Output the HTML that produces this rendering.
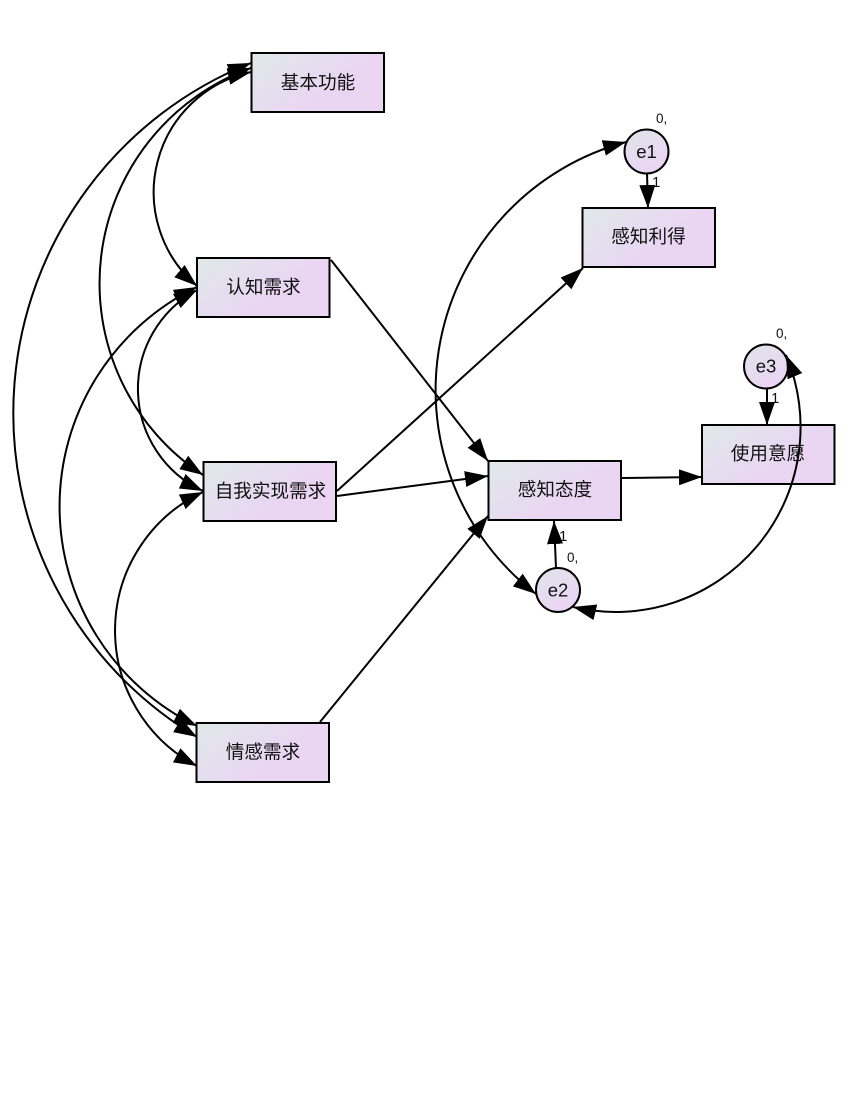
<!DOCTYPE html>
<html><head><meta charset="utf-8"><style>
html,body{margin:0;padding:0;background:#fff}
svg{display:block}
text{font-family:"Liberation Sans","Noto Sans CJK SC",sans-serif;fill:#111}
.c{font-size:18.6px;text-anchor:middle;font-family:"Liberation Sans","WenQuanYi Zen Hei","Noto Sans CJK SC",sans-serif}
.e{font-size:18.500px;text-anchor:middle}
.n{font-size:15px}
.z{font-size:13.500px}
.b{fill:url(#g);stroke:#000;stroke-width:2}
.o{fill:url(#h);stroke:#000;stroke-width:2}
.l{fill:none;stroke:#000;stroke-width:2}
.s{marker-end:url(#a)}
.d{marker-start:url(#a);marker-end:url(#a)}
</style></head><body>
<svg width="850" height="1100" viewBox="0 0 850 1100" xmlns="http://www.w3.org/2000/svg">
<defs>
<linearGradient id="g" x1="0" y1="0" x2="1" y2="0.6"><stop offset="0" stop-color="#dfe9e9"/><stop offset="0.75" stop-color="#ead5f3"/><stop offset="1" stop-color="#ead5f3"/></linearGradient>
<linearGradient id="h" x1="0.2" y1="0" x2="0.7" y2="1"><stop offset="0" stop-color="#e0e3ea"/><stop offset="1" stop-color="#ecd4f4"/></linearGradient>
<marker id="a" markerUnits="userSpaceOnUse" markerWidth="26" markerHeight="18" refX="23" refY="8" orient="auto-start-reverse"><path d="M0,0 L23,8 L0,16 Z" fill="#000"/></marker>
</defs>
<rect class="b" x="251.5" y="53" width="132.500" height="59"/>
<rect class="b" x="197" y="258" width="132.500" height="59"/>
<rect class="b" x="203.500" y="462" width="132.500" height="59"/>
<rect class="b" x="196.500" y="723" width="132.500" height="59"/>
<rect class="b" x="582.500" y="208" width="132.500" height="59"/>
<rect class="b" x="488.500" y="461" width="132.500" height="59"/>
<rect class="b" x="702" y="425" width="132.500" height="59"/>
<circle class="o" cx="646.500" cy="151.500" r="22"/>
<circle class="o" cx="558" cy="590" r="22"/>
<circle class="o" cx="766" cy="366.500" r="22"/>
<path class="l d" d="M251,72 A123,123 0 0 0 197,286"/>
<path class="l d" d="M251,68 A229,229 0 0 0 203,475"/>
<path class="l d" d="M251,63 A377,377 0 0 0 197,737"/>
<path class="l d" d="M197,290 A112.5,112.5 0 0 0 203,491"/>
<path class="l d" d="M197,287 A244,244 0 0 0 197,726"/>
<path class="l d" d="M203,492 A153,153 0 0 0 197,766"/>
<path class="l d" d="M626,142 A257,257 0 0 0 536,594"/>
<path class="l d" d="M786,355 A185,185 0 0 1 573,607"/>
<path class="l s" d="M331,260 L488,461"/>
<path class="l s" d="M337,491 L583,268"/>
<path class="l s" d="M337,496 L488,476"/>
<path class="l s" d="M320,722 L488,516"/>
<path class="l s" d="M622,478 L702,477"/>
<path class="l s" d="M647,173 L648,208"/>
<path class="l s" d="M556,568 L554,521"/>
<path class="l s" d="M767,388 L767,425"/>
<text class="c" x="318" y="89">基本功能</text>
<text class="c" x="263.500" y="293.500">认知需求</text>
<text class="c" x="270.500" y="497.500">自我实现需求</text>
<text class="c" x="263" y="758.500">情感需求</text>
<text class="c" x="648.500" y="243">感知利得</text>
<text class="c" x="555" y="496">感知态度</text>
<text class="c" x="768" y="460">使用意愿</text>
<text class="e" x="646.500" y="158">e1</text>
<text class="e" x="558" y="596.500">e2</text>
<text class="e" x="766" y="372.500">e3</text>
<text class="n" x="652" y="187">1</text>
<text class="n" x="559" y="541">1</text>
<text class="n" x="771" y="403">1</text>
<text class="z" x="656" y="123">0,</text>
<text class="z" x="567" y="562">0,</text>
<text class="z" x="776" y="338">0,</text>
</svg>
</body></html>
